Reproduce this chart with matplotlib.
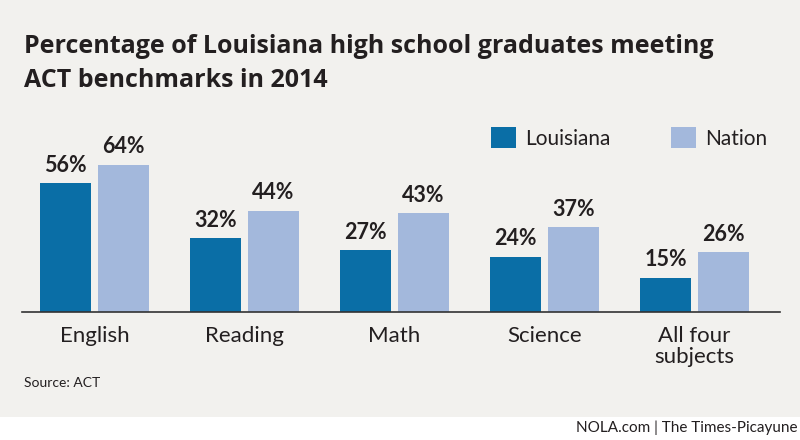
import matplotlib
matplotlib.use("Agg")
import matplotlib.pyplot as plt
import numpy as np
from matplotlib.patches import Rectangle

categories = ["English", "Reading", "Math", "Science", "All four\nsubjects"]
louisiana = [56, 32, 27, 24, 15]
nation = [64, 44, 43, 37, 26]
series_names = ["Louisiana", "Nation"]

bg = "#f2f1ee"
c_la = "#0a6ea6"
c_nat = "#a3b8dc"
ink = "#231f20"

fig = plt.figure(figsize=(8, 4.4), dpi=100, facecolor=bg)
# white footer band
fig.patches.append(Rectangle((0, 0), 1, 23 / 440, transform=fig.transFigure,
                             facecolor="white", edgecolor="none", zorder=0))

ax = fig.add_axes([22 / 800, 128 / 440, 758 / 800, 161 / 440])
ax.set_facecolor(bg)

x = np.arange(len(categories))
w = 0.34
off = 0.193
b1 = ax.bar(x - off, louisiana, w, color=c_la, label=series_names[0])
b2 = ax.bar(x + off, nation, w, color=c_nat, label=series_names[1])

for bars, vals in ((b1, louisiana), (b2, nation)):
    for b, v in zip(bars, vals):
        ax.text(b.get_x() + b.get_width() / 2, v + 3.2, f"{v}%", ha="center", va="bottom",
                fontsize=15.5, fontweight="bold", family="Lato", color=ink)

ax.set_xlim(-0.483, 4.57)
ax.set_ylim(0, 70)
for s in ["top", "right", "left"]:
    ax.spines[s].set_visible(False)
ax.spines["bottom"].set_color("#333333")
ax.spines["bottom"].set_linewidth(1.2)
ax.set_yticks([])
ax.set_xticks(x)
ax.set_xticklabels(categories, fontsize=16, color=ink, family="Lato", linespacing=1.05)
ax.tick_params(axis="x", length=0, pad=10)

fig.text(24 / 800, 1 - 53 / 440, "Percentage of Louisiana high school graduates meeting",
         fontsize=18, fontweight="bold", family="Open Sans", color=ink, va="baseline")
fig.text(24 / 800, 1 - 87 / 440, "ACT benchmarks in 2014",
         fontsize=18, fontweight="bold", family="Open Sans", color=ink, va="baseline")

leg = ax.legend(loc="upper left", bbox_to_anchor=(0.594, 1.265), ncol=2, frameon=False,
                prop={"family": "Lato", "size": 15}, handlelength=1.2, handleheight=1.2,
                columnspacing=2.9, handletextpad=0.45)
for t in leg.get_texts():
    t.set_color(ink)

fig.text(24 / 800, 1 - 387 / 440, "Source: ACT", fontsize=10,
         family="Lato", color=ink, va="baseline")
fig.text(797 / 800, 1 - 432 / 440, "NOLA.com | The Times-Picayune", fontsize=11,
         family="Lato", color=ink, va="baseline", ha="right")

fig.savefig("out.png", dpi=100, facecolor=bg)
